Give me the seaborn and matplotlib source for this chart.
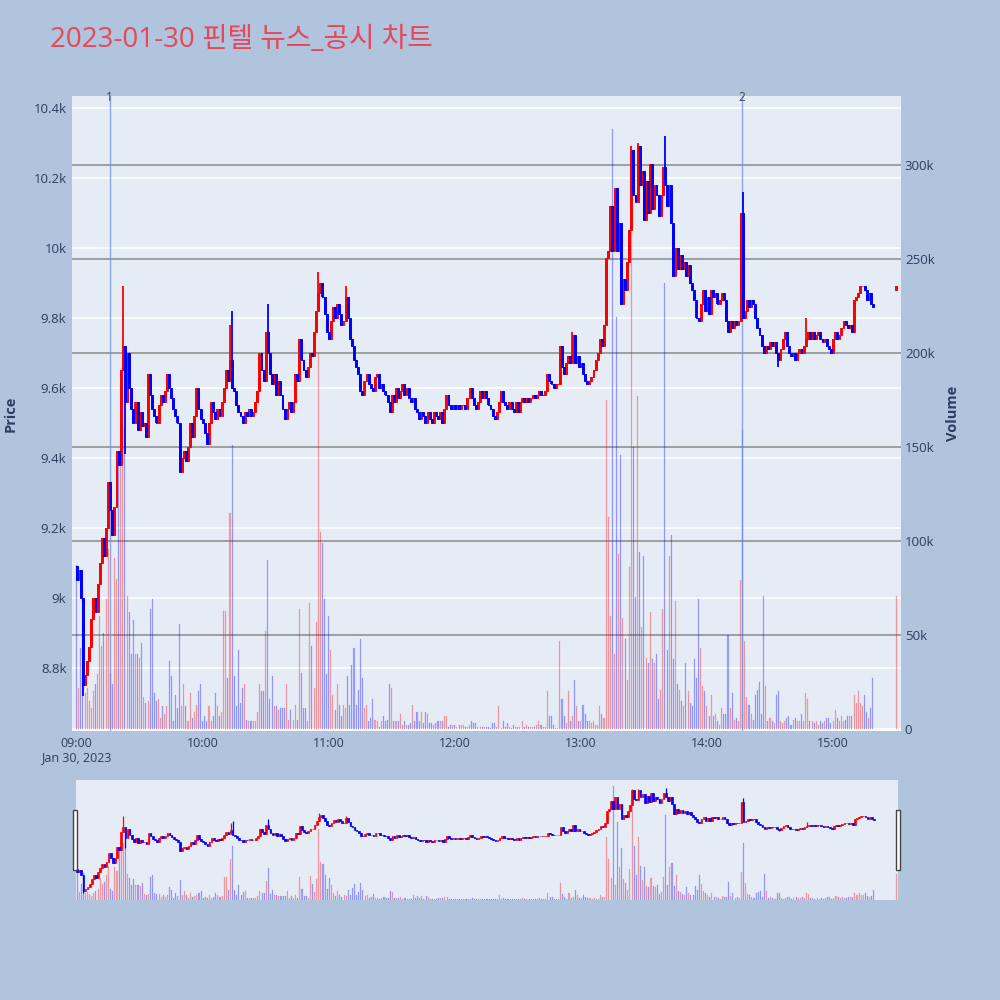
import matplotlib
matplotlib.use("Agg")
import matplotlib.pyplot as plt
import matplotlib.transforms as mtransforms
from matplotlib.patches import Rectangle
import numpy as np
import pandas as pd
import seaborn as sns

# 1-minute candles from 09:00 (minute 0) to 15:19, prices in won
first_open = 9090
close = [
    9050, 9080, 9000, 8750, 8780, 8820, 8860, 8940, 9000, 8960,
    9040, 9100, 9170, 9120, 9200, 9330, 9250, 9180, 9260, 9420,
    9380, 9650, 9720, 9560, 9700, 9600, 9540, 9500, 9560, 9480,
    9530, 9490, 9500, 9460, 9640, 9580, 9540, 9520, 9500, 9550,
    9580, 9560, 9590, 9640, 9600, 9570, 9540, 9520, 9500, 9360,
    9400, 9420, 9390, 9430, 9500, 9460, 9520, 9600, 9540, 9510,
    9500, 9470, 9440, 9500, 9560, 9530, 9510, 9540, 9520, 9560,
    9600, 9650, 9620, 9680, 9600, 9590, 9550, 9530, 9520, 9500,
    9530, 9520, 9540, 9520, 9530, 9560, 9590, 9700, 9650, 9620,
    9760, 9700, 9640, 9610, 9640, 9580, 9620, 9580, 9540, 9510,
    9540, 9560, 9530, 9560, 9640, 9620, 9740, 9680, 9650, 9630,
    9660, 9700, 9690, 9760, 9820, 9870, 9900, 9860, 9810, 9760,
    9740, 9790, 9830, 9800, 9840, 9810, 9780, 9790, 9860, 9800,
    9740, 9720, 9680, 9660, 9640, 9590, 9580, 9620, 9640, 9610,
    9600, 9590, 9630, 9640, 9600, 9610, 9590, 9580, 9560, 9530,
    9580, 9560, 9600, 9570, 9590, 9610, 9580, 9600, 9570, 9560,
    9570, 9540, 9530, 9510, 9530, 9520, 9500, 9530, 9510, 9500,
    9530, 9520, 9510, 9530, 9500, 9540, 9580, 9550, 9540, 9550,
    9540, 9550, 9540, 9550, 9550, 9540, 9570, 9600, 9570, 9550,
    9540, 9560, 9590, 9570, 9590, 9570, 9550, 9540, 9520, 9510,
    9530, 9560, 9590, 9560, 9550, 9540, 9560, 9540, 9530, 9560,
    9530, 9560, 9570, 9560, 9570, 9560, 9570, 9580, 9570, 9580,
    9590, 9580, 9580, 9590, 9640, 9620, 9610, 9600, 9610, 9610,
    9720, 9660, 9640, 9670, 9690, 9670, 9750, 9670, 9690, 9660,
    9670, 9640, 9620, 9610, 9620, 9630, 9650, 9680, 9700, 9740,
    9720, 9780, 9970, 9990, 10120, 9990, 10170, 9990, 10070, 9840,
    9910, 9880, 9960, 10050, 10280, 10150, 10130, 10290, 10180, 10220,
    10080, 10190, 10100, 10240, 10110, 10180, 10150, 10090, 10150, 10230,
    10180, 10120, 10180, 10070, 9920, 10000, 9940, 9980, 9940, 9960,
    9920, 9950, 9900, 9880, 9850, 9800, 9790, 9840, 9880, 9820,
    9860, 9810, 9880, 9860, 9870, 9840, 9850, 9870, 9850, 9790,
    9760, 9790, 9770, 9790, 9780, 9790, 10100, 9800, 9820, 9850,
    9830, 9850, 9840, 9800, 9770, 9750, 9720, 9700, 9720, 9710,
    9730, 9720, 9730, 9700, 9680, 9710, 9740, 9760, 9720, 9700,
    9690, 9700, 9680, 9700, 9710, 9700, 9720, 9740, 9760, 9740,
    9760, 9740, 9750, 9760, 9740, 9730, 9740, 9720, 9710, 9700,
    9740, 9760, 9740, 9750, 9770, 9790, 9780, 9770, 9780, 9760,
    9850, 9860, 9870, 9890, 9890, 9880, 9850, 9870, 9840, 9830,
]
# volume per minute, thousands of shares
volume_k = [
    87, 22, 43, 74, 19, 22, 15, 11, 20, 24,
    29, 60, 44, 51, 69, 96, 30, 24, 91, 80,
    140, 155, 160, 160, 71, 62, 40, 58, 40, 40,
    38, 46, 17, 14, 15, 64, 69, 19, 15, 16,
    6, 12, 8, 12, 36, 28, 4, 18, 11, 56,
    12, 24, 12, 4, 19, 6, 9, 13, 20, 24,
    4, 7, 4, 12, 4, 7, 19, 12, 7, 9,
    63, 63, 27, 115, 151, 28, 12, 42, 14, 22,
    24, 5, 4, 4, 4, 4, 9, 24, 20, 20,
    52, 90, 16, 28, 12, 12, 10, 11, 11, 11,
    24, 5, 10, 5, 13, 5, 64, 30, 11, 11,
    4, 67, 44, 22, 57, 200, 105, 99, 69, 29,
    60, 42, 18, 10, 24, 13, 7, 13, 11, 28,
    13, 34, 43, 13, 21, 48, 27, 11, 13, 4,
    6, 16, 5, 4, 1, 4, 7, 4, 5, 24,
    22, 4, 4, 4, 8, 2, 4, 2, 2, 3,
    13, 4, 9, 4, 9, 3, 9, 8, 3, 3,
    2, 3, 4, 4, 4, 7, 7, 1, 2, 2,
    2, 1, 2, 2, 2, 1, 1, 2, 4, 3,
    3, 1, 1, 1, 1, 1, 1, 0.5, 3, 3,
    1, 12, 0.5, 4, 1, 3, 1, 0.5, 2, 1,
    1, 1, 4, 1, 2, 1, 1, 1, 1, 2,
    4, 2, 1, 1, 20, 7, 7, 2, 0.5, 0.5,
    47, 16, 7, 3, 20, 4, 7, 26, 12, 4,
    4, 13, 8, 4, 4, 3, 4, 2, 2, 12,
    8, 6, 175, 113, 60, 319, 40, 219, 93, 146,
    59, 48, 26, 86, 310, 150, 70, 177, 94, 54,
    92, 38, 35, 62, 37, 35, 40, 16, 21, 64,
    237, 42, 92, 103, 37, 68, 24, 21, 15, 12,
    35, 20, 14, 12, 37, 27, 69, 43, 23, 20,
    12, 7, 18, 7, 8, 4, 2, 11, 8, 8,
    50, 11, 19, 5, 6, 4, 79, 159, 47, 17,
    13, 8, 5, 18, 21, 25, 8, 71, 23, 4,
    6, 4, 3, 18, 20, 4, 3, 4, 6, 7,
    2, 5, 6, 4, 4, 8, 4, 19, 16, 4,
    4, 3, 4, 2, 4, 3, 4, 6, 6, 3,
    4, 10, 6, 4, 7, 4, 5, 7, 7, 7,
    18, 14, 20, 14, 12, 18, 9, 6, 11, 27,
]
# wicks that reach past the bodies
high_minute = [22, 73, 74, 91, 115, 128, 236, 264, 267, 280, 317, 347]
high_price = [9890, 9780, 9820, 9840, 9930, 9890, 9760, 10290, 10300, 10320, 10160, 9800]
low_minute = [3, 23, 334]
low_price = [8720, 9410, 9660]

# closing auction print at 15:30
auction_minute = 390
auction_open = 9880
auction_close = 9890
auction_volume_k = 71

news_minute = [15.7, 316.7]
news_label = ["1", "2"]

hour_ticks = [0, 60, 120, 180, 240, 300, 360]
hour_labels = ["09:00\nJan 30, 2023", "10:00", "11:00", "12:00", "13:00", "14:00", "15:00"]
price_ticks = [8800, 9000, 9200, 9400, 9600, 9800, 10000, 10200, 10400]
price_labels = ["8.8k", "9k", "9.2k", "9.4k", "9.6k", "9.8k", "10k", "10.2k", "10.4k"]
vol_ticks = [0, 50000, 100000, 150000, 200000, 250000, 300000]
vol_labels = ["0", "50k", "100k", "150k", "200k", "250k", "300k"]

UP = "#FF0000"
DOWN = "#0000FF"
PAPER = "#B0C4DE"
PLOT_BG = "#E5ECF6"
TEXT = "#2a3f5f"

df = pd.DataFrame({"minute": np.arange(len(close)), "close": close,
                   "volume": np.array(volume_k) * 1000.0})
df["open"] = [first_open] + close[:-1]
auction = pd.DataFrame({"minute": [auction_minute], "close": [auction_close],
                        "volume": [auction_volume_k * 1000.0], "open": [auction_open]})
df = pd.concat([df, auction], ignore_index=True)
df["high"] = df[["open", "close"]].max(axis=1)
df["low"] = df[["open", "close"]].min(axis=1)
for m, v in zip(high_minute, high_price):
    df.loc[df.minute == m, "high"] = v
for m, v in zip(low_minute, low_price):
    df.loc[df.minute == m, "low"] = v
df["dir"] = np.where(df.close >= df.open, "up", "down")

sns.set_theme(style="white")
plt.rcParams["font.family"] = ["Open Sans", "Noto Sans CJK KR", "DejaVu Sans"]

PRICE_LIM = (8620, 10434)
VOL_LIM = (-1064, 336700)


def draw_candles(ax, data, body_w, wick_lw, edge_lw):
    for d, col in [("up", UP), ("down", DOWN)]:
        part = data[data.dir == d]
        ax.vlines(part.minute, part.low, part.high, color=col, lw=wick_lw, zorder=3)
        ax.bar(part.minute, part.close - part.open, bottom=part.open, width=body_w,
               color=col, edgecolor=col, linewidth=edge_lw, zorder=3)


def draw_volume(ax, data, width, alpha):
    # one pass per direction so face and edge keep the candle colour
    for d, col in [("up", UP), ("down", DOWN)]:
        sns.barplot(data=data[data.dir == d], x="minute", y="volume",
                    native_scale=True, width=width, color=col, edgecolor=col,
                    linewidth=0.2, alpha=alpha, saturation=1, errorbar=None,
                    ax=ax, zorder=1)


fig = plt.figure(figsize=(10, 10), dpi=100, facecolor=PAPER)

# main chart: volume axis underneath, price axis on top
ax_vol = fig.add_axes([0.072, 0.269, 0.8287, 0.635])
ax_vol.set_facecolor(PLOT_BG)
ax_price = ax_vol.twinx()
ax_price.patch.set_visible(False)

draw_volume(ax_vol, df, 0.5, 0.3)
draw_candles(ax_price, df, 0.9, 1.3, 0.7)

ax_vol.set_xlim(-2.2, 392.2)
ax_vol.set_ylim(*VOL_LIM)
ax_price.set_ylim(*PRICE_LIM)

# grid lines below the bars: white for price, gray for volume
price_tr = mtransforms.blended_transform_factory(ax_vol.transAxes, ax_price.transData)
for p in price_ticks:
    ax_vol.plot([0, 1], [p, p], color="white", lw=1.2, transform=price_tr, zorder=0.5)
for v in vol_ticks[1:]:
    ax_vol.axhline(v, color="#8a8a8a", lw=1.1, zorder=0.6)
ax_vol.axhline(0, color="white", lw=2, zorder=0.7)
ax_vol.grid(False)
ax_price.grid(False)

for a in (ax_vol, ax_price):
    for s in a.spines.values():
        s.set_visible(False)

ax_vol.set_xticks(hour_ticks)
ax_vol.set_xticklabels(hour_labels)
ax_vol.yaxis.tick_right()
ax_vol.yaxis.set_label_position("right")
ax_vol.set_yticks(vol_ticks)
ax_vol.set_yticklabels(vol_labels)
ax_price.yaxis.tick_left()
ax_price.yaxis.set_label_position("left")
ax_price.set_yticks(price_ticks)
ax_price.set_yticklabels(price_labels)
ax_vol.tick_params(axis="x", length=0, pad=4, labelsize=9, labelcolor=TEXT)
ax_vol.tick_params(axis="y", length=0, pad=3, labelsize=9.5, labelcolor=TEXT)
ax_price.tick_params(axis="y", length=0, pad=4, labelsize=9.5, labelcolor=TEXT)
ax_vol.set_xlabel("")
ax_vol.set_ylabel("Volume", fontsize=10.5, fontweight="bold", color=TEXT)
ax_price.set_ylabel("Price", fontsize=10.5, fontweight="bold", color=TEXT)
ax_vol.yaxis.set_label_coords(1.0547, 0.5)
ax_price.yaxis.set_label_coords(-0.0655, 0.5)

# news markers
top_tr = mtransforms.blended_transform_factory(ax_price.transData, ax_price.transAxes)
for m, lab in zip(news_minute, news_label):
    ax_price.axvline(m, color="#6d8ef0", lw=1, alpha=0.75, zorder=2)
    ax_price.text(m, 0.998, lab, transform=top_tr, ha="center", va="center",
                  fontsize=8.5, color="#444444")

# range slider
ax_rs = fig.add_axes([0.076, 0.1, 0.822, 0.12])
ax_rs.set_facecolor(PLOT_BG)
ax_rs_p = ax_rs.twinx()
ax_rs_p.patch.set_visible(False)
draw_volume(ax_rs, df, 0.5, 0.3)
draw_candles(ax_rs_p, df, 0.8, 0.9, 0.5)
ax_rs.set_xlim(-0.5, 390.5)
ax_rs.set_ylim(*VOL_LIM)
ax_rs_p.set_ylim(*PRICE_LIM)
for a in (ax_rs, ax_rs_p):
    a.set_xticks([])
    a.set_yticks([])
    a.set_xlabel("")
    a.set_ylabel("")
    a.grid(False)
    for s in a.spines.values():
        s.set_visible(False)

for hx in (0.073, 0.896):
    fig.add_artist(Rectangle((hx, 0.13), 0.004, 0.06, transform=fig.transFigure,
                             facecolor="white", edgecolor="#444444", lw=1))

fig.text(0.05, 0.96, "2023-01-30 핀텔 뉴스_공시 차트", fontsize=20,
         color="#E8475A", ha="left", va="center")

fig.savefig("out.png", dpi=100, facecolor=PAPER)
